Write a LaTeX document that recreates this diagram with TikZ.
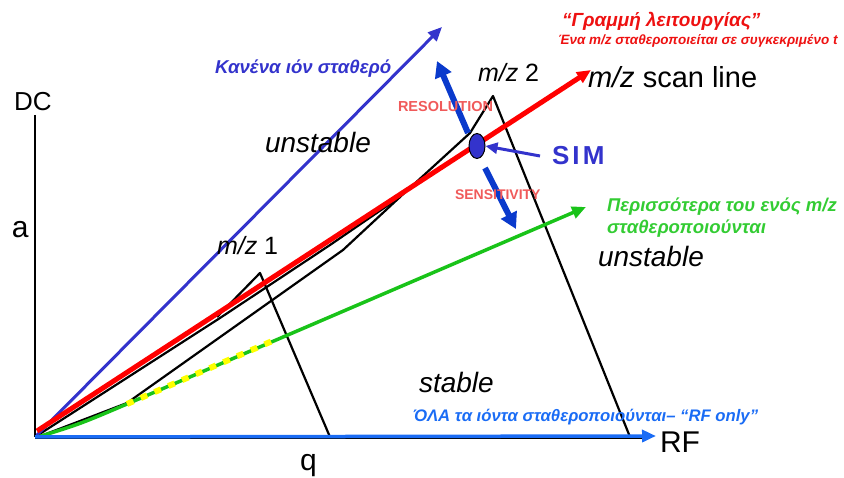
\documentclass[tikz,border=0pt]{standalone}
\usepackage{fontspec}
\setmainfont{Liberation Sans}
\usetikzlibrary{arrows.meta,shapes.geometric}
\newcommand\fsz[1]{\fontsize{#1}{#1}\selectfont}
\definecolor{ionblue}{HTML}{3333CC}
\definecolor{darkblue}{HTML}{0A3ACC}
\definecolor{rfblue}{HTML}{1A6CF5}
\definecolor{mred}{HTML}{FF0000}
\definecolor{tred}{HTML}{EE1111}
\definecolor{salmon}{HTML}{F05A5A}
\definecolor{lgreen}{HTML}{19C319}
\definecolor{tgreen}{HTML}{33CC33}
\definecolor{myellow}{HTML}{FFFF00}
\tikzset{
  lbl/.style={anchor=base west, inner sep=0pt, outer sep=0pt},
  bnd/.style={black, line width=2.2pt, line join=round},
  tip/.style={-{Triangle[length=14pt,width=12pt]}},
  bigtip/.style={-{Triangle[length=16pt,width=17pt]}},
}
\begin{document}
\begin{tikzpicture}[x=1pt,y=-1pt]
\useasboundingbox (0,0) rectangle (844,478);
% coordinates
\coordinate (O) at (35,437);
\coordinate (Ytop) at (35,115);
\coordinate (Xend) at (645,438);
\coordinate (Xs) at (35,438);
\coordinate (RFtip) at (656,436);
\coordinate (Bstart) at (35,437);
\coordinate (Btip) at (442,27);
\coordinate (Rstart) at (37,431);
\coordinate (Rtip) at (591,70);
\coordinate (Gstart) at (38,437);
\coordinate (Gmid) at (127,404);
\coordinate (Gy) at (277,339);
\coordinate (Gtip) at (586,207);
\coordinate (A1) at (220,318);
\coordinate (A2) at (330,245);
\coordinate (Aend) at (400,197);
\coordinate (B1) at (127,403);
\coordinate (B2) at (343,250);
\coordinate (B3) at (470,133);
\coordinate (Apex2) at (493,96);
\coordinate (Foot2) at (630,437);
\coordinate (M1a) at (217,317);
\coordinate (Apex1) at (260,273);
\coordinate (Foot1) at (330,437);
\coordinate (ResS) at (468,133);
\coordinate (ResT) at (437,61);
\coordinate (SenS) at (485,168);
\coordinate (SenT) at (516,229);
\coordinate (SimS) at (540,156);

% stability boundaries
\draw[bnd] (O) -- (A1) -- (A2) -- (Aend);
\draw[bnd] (Gstart) .. controls (80,421) .. (B1) -- (B2) -- (Aend) -- (B3) -- (Apex2) -- (Foot2);
\draw[bnd] (M1a) -- (Apex1) -- (Foot1);

% scan lines
\draw[ionblue, line width=3pt, tip] (Bstart) -- (Btip);
\draw[lgreen, line width=3.5pt, tip] (Gstart) .. controls (80,424) .. (Gmid) -- (Gtip);
\draw[myellow, line width=6pt, dash pattern=on 7pt off 8pt] (Gmid) -- (Gy);
\draw[mred, line width=5pt, tip] (Rstart) -- (Rtip);

% axes
\draw[black, line width=2.2pt] (Ytop) -- (O);
\draw[black, line width=2.2pt] (Xs) -- (Xend);
\draw[rfblue, line width=3.5pt, tip] (O) -- (RFtip);

% SIM point and arrows
\draw[darkblue, line width=6pt, bigtip] (ResS) -- (ResT);
\draw[darkblue, line width=6pt, bigtip] (SenS) -- (SenT);
\node[ellipse, draw=black, line width=1pt, fill=ionblue, minimum width=16pt, minimum height=25pt, inner sep=0pt] (sim) at (477,146) {};
\draw[ionblue, line width=3pt, -{Triangle[length=12pt,width=11pt]}] (SimS) -- (sim.east);

% labels
\node[lbl, font=\fsz{26}] (dc) at (14,111) {DC};
\node[lbl, font=\fsz{30}] (la) at (12,238) {a};
\node[lbl, font=\fsz{30}] (lq) at (300,470) {q};
\node[lbl, font=\fsz{30}] (rf) at (660,453) {RF};
\node[lbl, font=\fsz{25}] (mz1) at (217,255) {\textit{m/z} 1};
\node[lbl, font=\fsz{25}] (mz2) at (478,82) {\textit{m/z} 2};
\node[lbl, font=\fsz{29}] (scan) at (588,88) {\textit{m/z} scan line};
\node[lbl, font=\fsz{28}\itshape] (un1) at (265,153) {unstable};
\node[lbl, font=\fsz{28}\itshape] (un2) at (598,267) {unstable};
\node[lbl, font=\fsz{28}\itshape] (st) at (419,393) {stable};
\node[lbl, font=\fsz{26}\bfseries\addfontfeature{LetterSpace=12}, text=ionblue] (simlbl) at (552,165) {SIM};
\node[lbl, font=\fsz{14.5}\bfseries, text=salmon] (res) at (398,112) {RESOLUTION};
\node[lbl, font=\fsz{14}\bfseries, text=salmon] (sen) at (455,200) {SENSITIVITY};
\node[lbl, font=\fsz{18.6}\bfseries\itshape, text=ionblue] (none) at (215,74) {Κανένα ιόν σταθερό};
\node[lbl, font=\fsz{19}\bfseries\itshape, text=tred] (op1) at (562,27) {“Γραμμή λειτουργίας”};
\node[lbl, font=\fsz{13.5}\bfseries\itshape, text=tred] (op2) at (558,45) {Ένα m/z σταθεροποιείται σε συγκεκριμένο t};
\node[lbl, font=\fsz{18.5}\bfseries\itshape, text=tgreen] (gr1) at (607,212) {Περισσότερα του ενός m/z};
\node[lbl, font=\fsz{18.5}\bfseries\itshape, text=tgreen] (gr2) at (607,234) {σταθεροποιούνται};
\node[lbl, font=\fsz{16.7}\bfseries\itshape, text=rfblue] (all) at (413,421) {ΌΛΑ τα ιόντα σταθεροποιούνται– “RF only”};
\end{tikzpicture}
\end{document}
